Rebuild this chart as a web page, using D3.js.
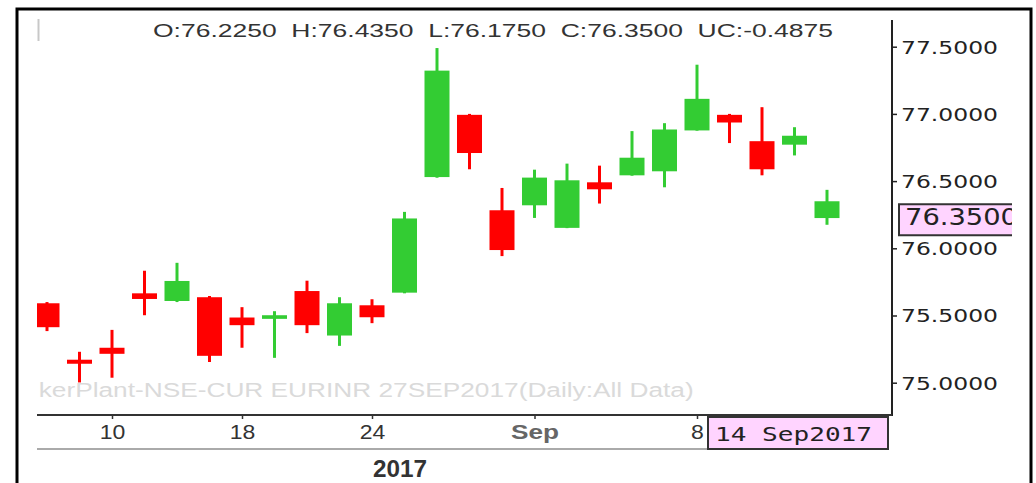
<!DOCTYPE html>
<html><head><meta charset="utf-8">
<script src="https://cdn.jsdelivr.net/npm/d3@7"></script>
<style>body{margin:0;background:#fff;} svg{display:block;}</style>
</head><body>
<svg id="c" width="1036" height="483"></svg>
<script>
const dates = ["2017-08-08","2017-08-09","2017-08-10","2017-08-11","2017-08-14","2017-08-16","2017-08-18",
  "2017-08-21","2017-08-22","2017-08-23","2017-08-24","2017-08-28","2017-08-29","2017-08-30","2017-08-31",
  "2017-09-01","2017-09-04","2017-09-05","2017-09-06","2017-09-07","2017-09-08","2017-09-11","2017-09-12",
  "2017-09-13","2017-09-14"];
const open  = [75.591,75.171,75.260,75.665,75.608,75.636,75.485,75.475,75.682,75.351,75.576,75.670,76.530,
  76.993,76.283,76.320,76.152,76.491,76.543,76.573,76.877,76.993,76.797,76.771,76.2250];
const high  = [75.600,75.230,75.393,75.833,75.892,75.645,75.562,75.532,75.759,75.636,75.621,76.271,77.490,
  77.000,76.449,76.585,76.630,76.615,76.872,76.931,77.366,77.000,77.050,76.901,76.4350];
const low   = [75.384,75.002,75.037,75.502,75.600,75.154,75.260,75.185,75.369,75.274,75.443,75.665,76.525,
  76.588,75.942,76.226,76.150,76.333,76.540,76.454,76.875,76.783,76.543,76.691,76.1750];
const close = [75.413,75.141,75.215,75.623,75.757,75.200,75.428,75.502,75.428,75.591,75.487,76.222,77.322,
  76.709,75.987,76.526,76.506,76.439,76.674,76.884,77.112,76.936,76.588,76.8375,76.3500];
const yTicks = [75.0, 75.5, 76.0, 76.5, 77.0, 77.5];
const xTickDates = ["2017-08-10","2017-08-18","2017-08-24","2017-09-01","2017-09-08"];
const xTickLabels = ["10","18","24","Sep","8"];
const yearLabel = "2017";
const watermark = "kerPlant-NSE-CUR EURINR 27SEP2017(Daily:All Data)";
const lastDateLabel = "14 Sep2017";

const svg = d3.select("#c");
const RED = "#ff0000", GREEN = "#33cc33";
const f4 = d3.formatLocale({decimal:".", thousands:",", grouping:[3], currency:["",""], minus:"-"}).format(".4f");

const x = d3.scalePoint().domain(dates).range([47, 827]);
const y = d3.scaleLinear().domain([75, 77.5]).range([382.7, 46.7]);

const defs = svg.append("defs");
defs.append("clipPath").attr("id","plot").append("rect").attr("x",37).attr("y",20).attr("width",855).attr("height",395);
defs.append("clipPath").attr("id","pbox").append("rect").attr("x",897).attr("y",190).attr("width",115).attr("height",60);

// outer frame
svg.append("rect").attr("x",17).attr("y",9).attr("width",1014).attr("height",500)
  .attr("fill","none").attr("stroke","#000").attr("stroke-width",3);

// cursor mark
svg.append("line").attr("x1",38.5).attr("x2",38.5).attr("y1",19).attr("y2",41)
  .attr("stroke","#c8c8c8").attr("stroke-width",2);

// header
const n = dates.length - 1;
const hdr = `O:${f4(open[n])}\u00a0\u00a0H:${f4(high[n])}\u00a0\u00a0L:${f4(low[n])}\u00a0\u00a0C:${f4(close[n])}\u00a0\u00a0UC:${f4(close[n]-close[n-1])}`;
svg.append("text").attr("x",153).attr("y",36.5).text(hdr)
  .attr("font-family","'Liberation Sans', Arial, sans-serif").attr("font-size",19).attr("fill","#333")
  .attr("textLength",680).attr("lengthAdjust","spacingAndGlyphs");

// watermark
svg.append("text").attr("x",38.7).attr("y",397).text(watermark)
  .attr("font-family","'Liberation Sans', Arial, sans-serif").attr("font-size",19.5).attr("fill","#dadada")
  .attr("textLength",655).attr("lengthAdjust","spacingAndGlyphs");

// candles
const idx = d3.range(dates.length);
const g = svg.append("g").attr("clip-path","url(#plot)");
g.selectAll("line.w").data(idx).join("line").attr("class","w")
  .attr("x1",i=>x(dates[i])).attr("x2",i=>x(dates[i]))
  .attr("y1",i=>y(high[i])).attr("y2",i=>y(low[i]))
  .attr("stroke",i=>close[i]>=open[i]?GREEN:RED).attr("stroke-width",3);
g.selectAll("rect.b").data(idx).join("rect").attr("class","b")
  .attr("x",i=>x(dates[i])-12.5).attr("width",25)
  .attr("y",i=>y(Math.max(open[i],close[i])))
  .attr("height",i=>Math.max(3, y(Math.min(open[i],close[i])) - y(Math.max(open[i],close[i]))))
  .attr("fill",i=>close[i]>=open[i]?GREEN:RED);

// right axis
const ay = svg.append("g").attr("transform","translate(892,0)")
  .call(d3.axisRight(y).tickValues(yTicks).tickFormat(f4).tickSize(5).tickSizeOuter(0).tickPadding(4));
ay.select(".domain").remove();
ay.selectAll(".tick line").attr("stroke","#222").attr("stroke-width",1.5);
ay.selectAll(".tick text").attr("font-family","'DejaVu Sans', Verdana, sans-serif").attr("font-size",17.5)
  .attr("fill","#222").attr("textLength",97).attr("lengthAdjust","spacingAndGlyphs").attr("dy","0.36em");
svg.append("line").attr("x1",892).attr("x2",892).attr("y1",20).attr("y2",416)
  .attr("stroke","#222").attr("stroke-width",2);

// bottom axis
const ax = svg.append("g").attr("transform","translate(0,415)")
  .call(d3.axisBottom(x).tickValues(xTickDates).tickFormat((d,i)=>xTickLabels[i]).tickSize(4).tickSizeOuter(0).tickPadding(6));
ax.select(".domain").remove();
ax.selectAll(".tick line").attr("stroke","#333").attr("stroke-width",1.5);
ax.selectAll(".tick text").attr("font-family","'Liberation Sans', Arial, sans-serif").attr("font-size",20)
  .attr("fill",(d,i)=>xTickLabels[i]==="Sep"?"#666":"#333")
  .attr("font-weight",(d,i)=>xTickLabels[i]==="Sep"?"bold":"normal")
  .each(function(d,i){ d3.select(this).attr("textLength", xTickLabels[i].length*(xTickLabels[i]==="Sep"?16:12.8)).attr("lengthAdjust","spacingAndGlyphs"); });
svg.append("line").attr("x1",37).attr("x2",892).attr("y1",415).attr("y2",415)
  .attr("stroke","#333").attr("stroke-width",2);

// year row
svg.append("line").attr("x1",37).attr("x2",708).attr("y1",449).attr("y2",449)
  .attr("stroke","#aaa").attr("stroke-width",2);
svg.append("text").attr("x",400).attr("y",477).attr("text-anchor","middle").text(yearLabel)
  .attr("font-family","'Liberation Sans', Arial, sans-serif").attr("font-weight","bold").attr("font-size",23)
  .attr("fill","#333").attr("textLength",54).attr("lengthAdjust","spacingAndGlyphs");

// last date box
svg.append("rect").attr("x",708).attr("y",417).attr("width",180).attr("height",32)
  .attr("fill","#ffd4ff").attr("stroke","#333").attr("stroke-width",2);
svg.append("text").attr("x",715).attr("y",440.5).text(lastDateLabel)
  .attr("font-family","'DejaVu Sans Mono', monospace").attr("font-size",19).attr("fill","#222")
  .attr("textLength",157).attr("lengthAdjust","spacingAndGlyphs");

// last price box
const py = y(close[n]);
svg.append("rect").attr("x",899).attr("y",py+3).attr("width",113).attr("height",31).attr("fill","#ffd4ff");
svg.append("path").attr("d",`M1012,${py+3}H899V${py+34}H1012`).attr("fill","none").attr("stroke","#333").attr("stroke-width",2);
svg.append("text").attr("x",905).attr("y",py+24).text(f4(close[n]))
  .attr("clip-path","url(#pbox)")
  .attr("font-family","'DejaVu Sans', Verdana, sans-serif").attr("font-size",23).attr("fill","#222")
  .attr("textLength",113).attr("lengthAdjust","spacingAndGlyphs");
</script>
</body></html>
